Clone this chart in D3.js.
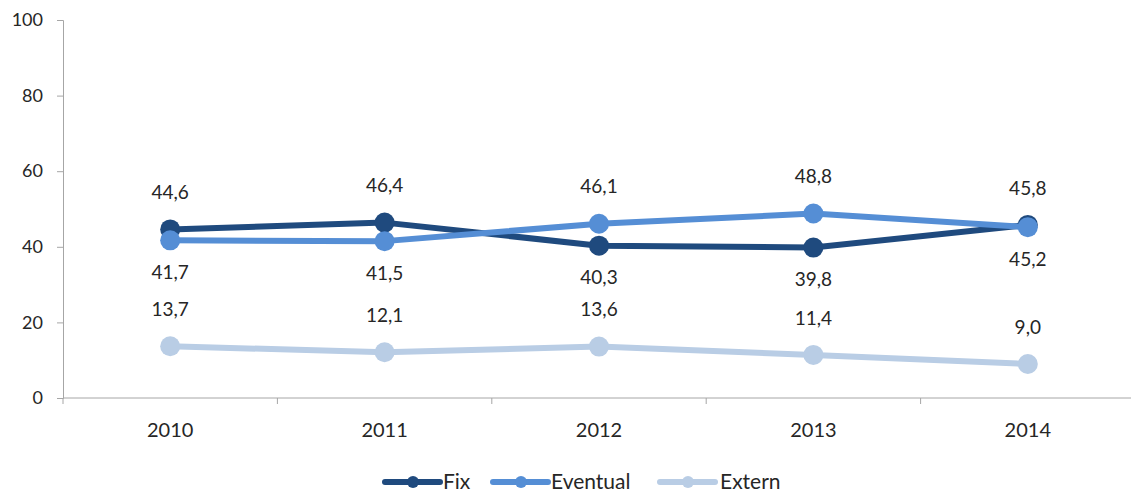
<!DOCTYPE html>
<html>
<head>
<meta charset="utf-8">
<script src="https://cdn.jsdelivr.net/npm/d3@7"></script>
<style>
  html, body { margin: 0; padding: 0; background: #fff; }
  svg { display: block; }
  text { font-family: "Lato", "Open Sans", "Liberation Sans", sans-serif; fill: #262626; }
</style>
</head>
<body>
<svg id="chart" width="1131" height="495"></svg>
<script>
const categories = ["2010", "2011", "2012", "2013", "2014"];
const seriesNames = ["Fix", "Eventual", "Extern"];
const fixValues = [44.6, 46.4, 40.3, 39.8, 45.8];
const eventualValues = [41.7, 41.5, 46.1, 48.8, 45.2];
const externValues = [13.7, 12.1, 13.6, 11.4, 9.0];
const yTicks = [0, 20, 40, 60, 80, 100];
const colors = ["#1f4a7e", "#558ed5", "#b9cde5"];

(function () {
const series = [
  { name: seriesNames[0], values: fixValues, color: colors[0] },
  { name: seriesNames[1], values: eventualValues, color: colors[1] },
  { name: seriesNames[2], values: externValues, color: colors[2] }
];

const svg = d3.select("#chart");
const mLeft = 63, mRight = 1135, mTop = 20, mBottom = 398;

const x = d3.scaleBand().domain(categories).range([mLeft, mRight]);
const y = d3.scaleLinear().domain([0, 100]).range([mBottom, mTop]);
const cx = c => x(c) + x.bandwidth() / 2;

// Y axis
const yAxis = svg.append("g").attr("transform", `translate(${mLeft},0)`)
  .call(d3.axisLeft(y).tickValues(yTicks).tickSize(6).tickPadding(14).tickFormat(d3.format("d")));
yAxis.selectAll("path, line").attr("stroke", "#a6a6a6");
yAxis.selectAll("text").style("font-size", "18px").attr("fill", "#262626");

// X axis
const xAxis = svg.append("g").attr("transform", `translate(0,${mBottom})`);
xAxis.append("line").attr("x1", mLeft).attr("x2", mRight).attr("y1", 0).attr("y2", 0).attr("stroke", "#a6a6a6");
const bounds = categories.map(c => x(c)).concat([mRight]);
xAxis.selectAll("line.tick").data(bounds).enter().append("line").attr("class", "tick")
  .attr("x1", d => d).attr("x2", d => d).attr("y1", 0).attr("y2", 6).attr("stroke", "#a6a6a6");
xAxis.selectAll("text").data(categories).enter().append("text")
  .attr("x", d => cx(d)).attr("y", 39).attr("text-anchor", "middle")
  .style("font-size", "20px").text(d => d);

// Lines & markers
const line = d3.line().x((d, i) => cx(categories[i])).y(d => y(d));
series.forEach(s => {
  svg.append("path").datum(s.values).attr("d", line)
    .attr("fill", "none").attr("stroke", s.color).attr("stroke-width", 6)
    .attr("stroke-linejoin", "round");
  svg.selectAll(null).data(s.values).enter().append("circle")
    .attr("cx", (d, i) => cx(categories[i])).attr("cy", d => y(d)).attr("r", 10)
    .attr("fill", s.color);
});

// Labels
const fmt = v => v.toFixed(1).replace(".", ",");
series.forEach((s, si) => {
  s.values.forEach((v, i) => {
    let above = true;
    if (si < 2) {
      const other = series[1 - si].values[i];
      above = v >= other;
    }
    svg.append("text")
      .attr("x", cx(categories[i]))
      .attr("y", above ? y(v) - 37 : y(v) + 32)
      .attr("dy", "0.35em")
      .attr("text-anchor", "middle")
      .style("font-size", "19px")
      .text(fmt(v));
  });
});

// Legend
const legendItems = [
  { x: 385, tx: 443 },
  { x: 493, tx: 551 },
  { x: 660, tx: 720 }
];
series.forEach((s, i) => {
  const g = svg.append("g");
  const lx = legendItems[i].x, ly = 482;
  g.append("line").attr("x1", lx).attr("x2", lx + 55).attr("y1", ly).attr("y2", ly)
    .attr("stroke", s.color).attr("stroke-width", 6).attr("stroke-linecap", "round");
  g.append("circle").attr("cx", lx + 28).attr("cy", ly).attr("r", 6).attr("fill", s.color);
  g.append("text").attr("x", legendItems[i].tx).attr("y", ly).attr("dy", "0.35em")
    .style("font-size", "21px").text(s.name);
});
})();
</script>
</body>
</html>
